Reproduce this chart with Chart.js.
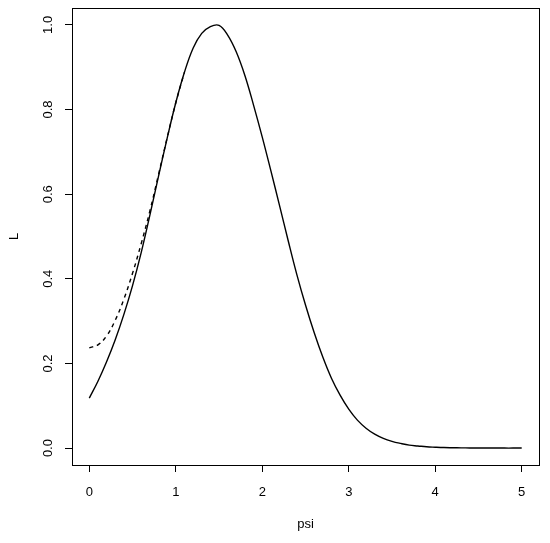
<!DOCTYPE html>
<html>
<head>
<meta charset="utf-8">
<script src="https://cdn.jsdelivr.net/npm/chart.js@4/dist/chart.umd.min.js"></script>
<style>
  html, body { margin: 0; padding: 0; background: #fff; }
  #wrap { width: 550px; height: 543px; }
</style>
</head>
<body>
<div id="wrap"><canvas id="plot" width="550" height="543"></canvas></div>
<script>
// values
const psi = [0.0, 0.1, 0.2, 0.3, 0.4, 0.5, 0.6, 0.7, 0.8, 0.9,
  1.0, 1.1, 1.2, 1.3, 1.4, 1.5, 1.6, 1.7, 1.8, 1.9,
  2.0, 2.1, 2.2, 2.3, 2.4, 2.5, 2.6, 2.7, 2.8, 2.9,
  3.0, 3.1, 3.2, 3.3, 3.4, 3.5, 3.6, 3.7, 3.8, 3.9,
  4.0, 4.1, 4.2, 4.3, 4.4, 4.5, 4.6, 4.7, 4.8, 4.9, 5.0];

const solidL = [0.118, 0.158, 0.204, 0.256, 0.316, 0.384, 0.462, 0.550, 0.642, 0.732,
  0.816, 0.888, 0.945, 0.980, 0.996, 0.999, 0.976, 0.936, 0.880, 0.810,
  0.735, 0.655, 0.573, 0.490, 0.410, 0.338, 0.273, 0.215, 0.165, 0.125,
  0.092, 0.066, 0.047, 0.033, 0.023, 0.016, 0.011, 0.007, 0.005, 0.003,
  0.002, 0.0012, 0.0008, 0.0005, 0.0003, 0.0002, 0.0001, 0.0001, 0.0, 0.0, 0.0];

const dashedL = [0.237, 0.244, 0.265, 0.302, 0.352, 0.413, 0.483, 0.560, 0.646, 0.733,
  0.816, 0.888];

const xTicks = [0, 1, 2, 3, 4, 5];
const yTicks = [0.0, 0.2, 0.4, 0.6, 0.8, 1.0];

const font = { family: "'Liberation Sans', Arial, Helvetica, sans-serif", size: 13 };

const boxPlugin = {
  id: 'box',
  afterDraw(chart) {
    const a = chart.chartArea;
    const ctx = chart.ctx;
    ctx.save();
    ctx.strokeStyle = '#000';
    ctx.lineWidth = 1;
    ctx.strokeRect(a.left + 0.5, a.top + 0.5, a.right - a.left, a.bottom - a.top);
    ctx.restore();
  }
};

const noPad = s => {
  s.paddingTop = 0; s.paddingBottom = 0;
  s.paddingLeft = 0; s.paddingRight = 0;
};

new Chart(document.getElementById('plot'), {
  type: 'line',
  data: {
    datasets: [
      {
        data: psi.map((p, i) => ({ x: p, y: solidL[i] })),
        borderColor: '#000',
        borderWidth: 1.4,
        pointRadius: 0,
        tension: 0.4
      },
      {
        data: dashedL.map((v, i) => ({ x: psi[i], y: v })),
        borderColor: '#000',
        borderWidth: 1.4,
        borderDash: [4, 4],
        pointRadius: 0,
        tension: 0.4
      }
    ]
  },
  options: {
    responsive: false,
    animation: false,
    layout: { padding: { top: 8, right: 11, left: 0, bottom: 0 } },
    plugins: { legend: { display: false }, tooltip: { enabled: false } },
    scales: {
      x: {
        type: 'linear',
        min: -0.2,
        max: 5.2,
        afterBuildTicks: s => { s.ticks = xTicks.map(v => ({ value: v })); },
        afterFit: s => { s.height = 78; noPad(s); },
        ticks: { color: '#000', font: font, padding: 13, maxRotation: 0,
          callback: v => String(v) },
        grid: { drawOnChartArea: false, color: '#000', tickLength: 7, lineWidth: 1 },
        border: { display: false },
        title: { display: true, text: 'psi', color: '#000', font: font,
          padding: { top: 0, bottom: 11 } }
      },
      y: {
        type: 'linear',
        min: -0.04,
        max: 1.04,
        afterBuildTicks: s => { s.ticks = yTicks.map(v => ({ value: v })); },
        afterFit: s => { s.width = 72; noPad(s); },
        ticks: { color: '#000', font: font, padding: 8, minRotation: 90, maxRotation: 90,
          crossAlign: 'center', callback: v => v.toFixed(1) },
        grid: { drawOnChartArea: false, color: '#000', tickLength: 7, lineWidth: 1 },
        border: { display: false },
        title: { display: true, text: 'L', color: '#000', font: font,
          padding: { top: 7, bottom: 0 } }
      }
    }
  },
  plugins: [boxPlugin]
});
</script>
</body>
</html>
